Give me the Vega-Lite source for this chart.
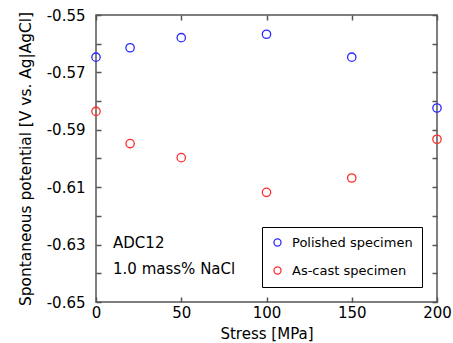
{
  "$schema": "https://vega.github.io/schema/vega-lite/v6.json",
  "width": 341,
  "height": 287,
  "autosize": {"type": "none"},
  "padding": {"left": 96, "top": 15, "right": 16, "bottom": 41},
  "background": "white",
  "config": {
    "view": {"stroke": "#555555", "strokeWidth": 1.5},
    "font": "DejaVu Sans",
    "axis": {
      "grid": false,
      "domain": false,
      "tickColor": "#555555",
      "tickWidth": 1.5,
      "tickSize": -5,
      "labelColor": "black",
      "labelFont": "DejaVu Sans",
      "labelFontSize": 15,
      "titleFont": "DejaVu Sans",
      "titleFontSize": 15,
      "titleFontWeight": "normal",
      "titleColor": "black"
    }
  },
  "datasets": {
    "pts": [
      {"stress": 0, "potential": -0.5647, "specimen": "Polished specimen"},
      {"stress": 20, "potential": -0.5614, "specimen": "Polished specimen"},
      {"stress": 50, "potential": -0.5579, "specimen": "Polished specimen"},
      {"stress": 100, "potential": -0.5567, "specimen": "Polished specimen"},
      {"stress": 150, "potential": -0.5647, "specimen": "Polished specimen"},
      {"stress": 200, "potential": -0.5824, "specimen": "Polished specimen"},
      {"stress": 0, "potential": -0.5836, "specimen": "As-cast specimen"},
      {"stress": 20, "potential": -0.5948, "specimen": "As-cast specimen"},
      {"stress": 50, "potential": -0.5997, "specimen": "As-cast specimen"},
      {"stress": 100, "potential": -0.6118, "specimen": "As-cast specimen"},
      {"stress": 150, "potential": -0.6068, "specimen": "As-cast specimen"},
      {"stress": 200, "potential": -0.5933, "specimen": "As-cast specimen"}
    ]
  },
  "layer": [
    {
      "data": {"name": "pts"},
      "mark": {"type": "point", "shape": "circle", "filled": false, "size": 70, "strokeWidth": 1.3, "opacity": 1},
      "encoding": {
        "x": {
          "field": "stress", "type": "quantitative",
          "scale": {"domain": [0, 200], "nice": false, "zero": false},
          "axis": {"orient": "bottom", "values": [0, 50, 100, 150, 200], "labelPadding": 8, "labelFlush": false, "title": "Stress [MPa]", "titleBaseline": "middle", "titleY": 31, "titleFontSize": 15}
        },
        "y": {
          "field": "potential", "type": "quantitative",
          "scale": {"domain": [-0.65, -0.55], "nice": false, "zero": false},
          "axis": {
            "orient": "left",
            "values": [-0.65, -0.64, -0.63, -0.62, -0.61, -0.6, -0.59, -0.58, -0.57, -0.56, -0.55],
            "labelExpr": "abs(round(datum.value*100)) % 2 == 1 ? replace(format(datum.value, '.2f'), '\u2212', '-') : ''",
            "labelPadding": 16,
            "labelFlush": false,
            "title": "Spontaneous potential [V vs. Ag|AgCl]",
            "titleFontSize": 15.4,
            "titleAngle": 270,
            "titleBaseline": "middle",
            "titleAnchor": "middle",
            "titleX": -71,
            "titleY": 143.5
          }
        },
        "color": {
          "field": "specimen", "type": "nominal",
          "scale": {"domain": ["Polished specimen", "As-cast specimen"], "range": ["#2b2bff", "#ff2b2b"]},
          "legend": {
            "orient": "none",
            "legendX": 166,
            "legendY": 212,
            "title": null,
            "strokeColor": "black",
            "fillColor": "white",
            "padding": 9,
            "rowPadding": 14,
            "labelFont": "DejaVu Sans",
            "labelFontSize": 13,
            "labelColor": "black",
            "labelOffset": 8,
            "symbolType": "circle",
            "symbolSize": 50,
            "symbolStrokeWidth": 1.3,
            "symbolOpacity": 1
          }
        }
      }
    },
    {
      "data": {"name": "pts"},
      "mark": {"type": "point", "opacity": 0},
      "encoding": {
        "x": {"field": "stress", "type": "quantitative", "scale": {"domain": [0, 200], "nice": false, "zero": false},
              "axis": {"orient": "top", "values": [0, 50, 100, 150, 200], "labels": false, "title": null}},
        "y": {"field": "potential", "type": "quantitative", "scale": {"domain": [-0.65, -0.55], "nice": false, "zero": false},
              "axis": {"orient": "right", "values": [-0.65, -0.64, -0.63, -0.62, -0.61, -0.6, -0.59, -0.58, -0.57, -0.56, -0.55], "labels": false, "title": null}}
      }
    },
    {
      "data": {"values": [{"label": "ADC12"}]},
      "mark": {"type": "text", "align": "left", "baseline": "middle", "fontSize": 15, "font": "DejaVu Sans", "color": "black"},
      "encoding": {
        "x": {"datum": 10, "type": "quantitative", "axis": null},
        "y": {"datum": -0.6294, "type": "quantitative", "axis": null},
        "text": {"field": "label"}
      }
    },
    {
      "data": {"values": [{"label": "1.0 mass% NaCl"}]},
      "mark": {"type": "text", "align": "left", "baseline": "middle", "fontSize": 15, "font": "DejaVu Sans", "color": "black"},
      "encoding": {
        "x": {"datum": 10, "type": "quantitative", "axis": null},
        "y": {"datum": -0.6385, "type": "quantitative", "axis": null},
        "text": {"field": "label"}
      }
    }
  ],
  "resolve": {"axis": {"x": "independent", "y": "independent"}}
}
